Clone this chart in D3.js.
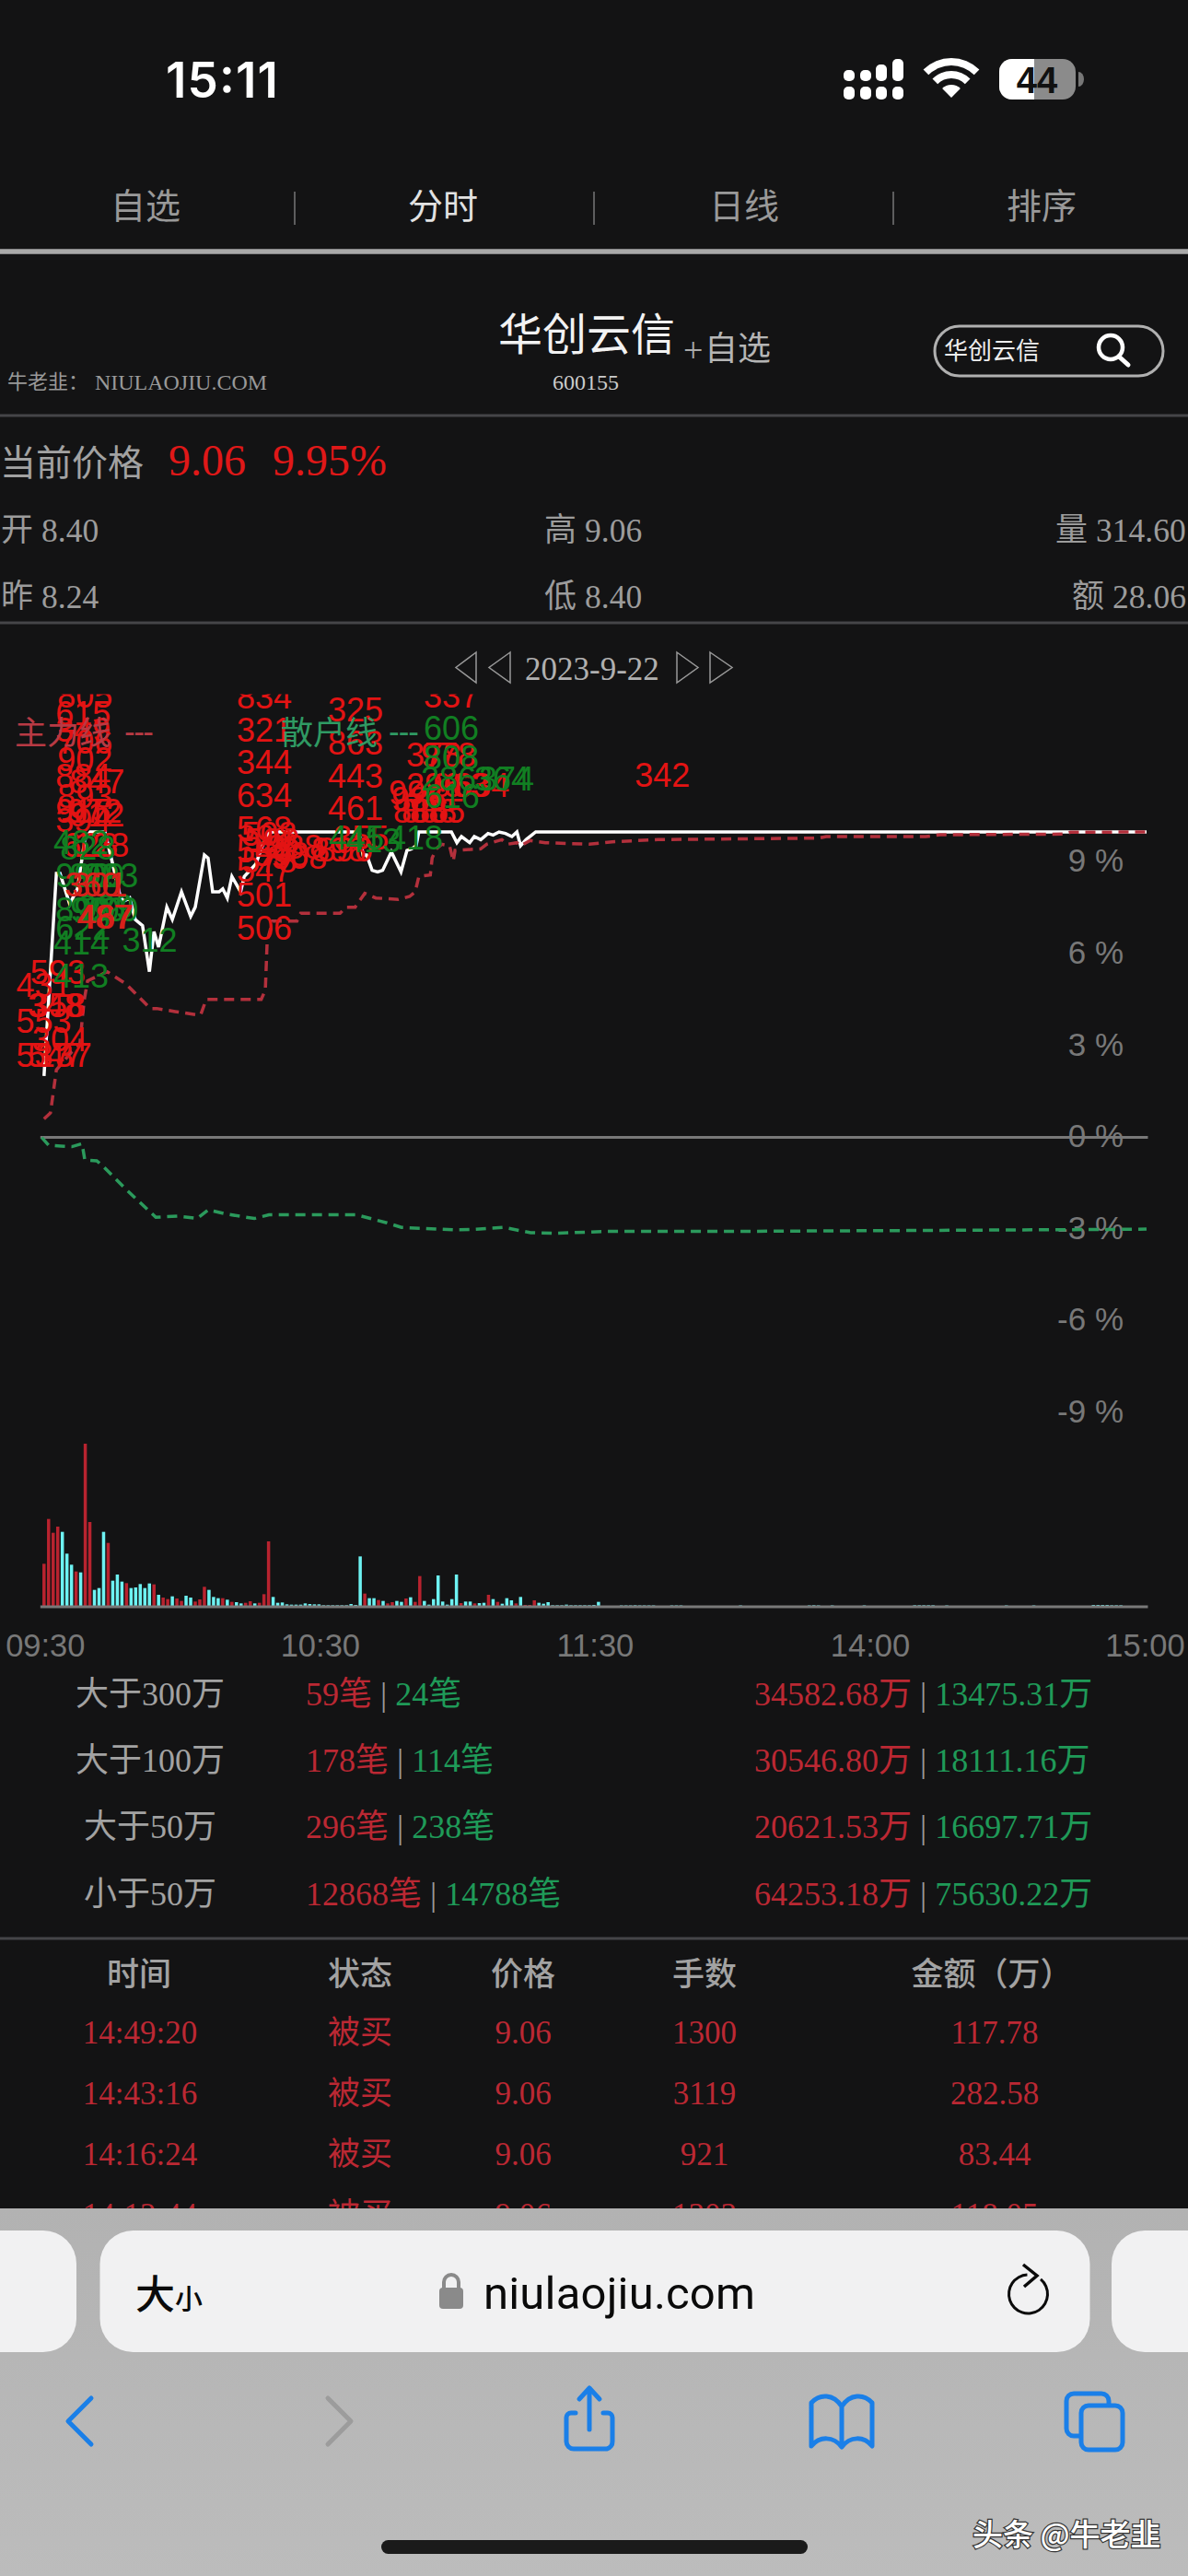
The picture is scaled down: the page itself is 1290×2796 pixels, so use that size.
<!DOCTYPE html>
<html lang="zh">
<head>
<meta charset="utf-8">
<title>华创云信 分时</title>
<script src="https://d3js.org/d3.v7.min.js"></script>
<style>
  html, body { margin: 0; padding: 0; background: #131314; }
  svg { display: block; }
  text { font-family: "Liberation Serif", "Noto Sans CJK SC", serif; }
  .sans { font-family: "Liberation Sans", "Noto Sans CJK SC", sans-serif; }
  .cjk { font-family: "Noto Sans CJK SC", sans-serif; }
</style>
</head>
<body>
<div id="chart"></div>
<script>

// ---- chart data ----
var percentTicks = [9, 6, 3, 0, -3, -6, -9];
var timeTickMinutes = [0, 60, 120, 180, 240];
var timeTickLabels = ["09:30", "10:30", "11:30", "14:00", "15:00"];

// price line (white), minute index and % change
var priceMin = [0,2.7,3.5,5.6,7.3,8.9,10.1,13.3,14.9,16.7,17.5,18.7,19.9,21.5,23,24,25,26.8,28,30,32,33,35,35.8,36.8,38.2,39,40,41,42.9,43.7,46.2,47.9,49.1,68.8,69.6,70.4,71.6,72.8,73.9,75.8,77.9,79.2,80.2,81.2,81.8,88.9,90.1,91.1,92.9,93.9,95.3,96.9,98,99.3,100.7,102.1,103.2,104,105.2,107.3,240.6];
var pricePct = [2,8.6,8.6,7.6,8.1,9.7,9.95,9.95,8.96,7.8,7.7,7.8,7.1,6.9,5.4,6.7,6.2,7.5,7.1,8,7.2,7.5,9.2,9.1,8,8,8.1,7.8,8.5,8,8.5,8.9,9.6,9.95,9.95,9.2,9.2,8.7,8.65,8.7,9.3,8.65,9.35,9.4,9.5,9.95,9.95,9.6,9.8,9.6,9.8,9.7,9.9,9.85,9.95,9.9,9.8,9.95,9.5,9.7,9.95,9.95];

// 主力线 (red dashed)
var mainMin = [0,1.4,2.7,6.1,7.8,8.5,8.8,9.5,13.8,17.9,23.2,24.6,28.6,33.2,34.2,35.4,47.4,48.3,48.7,49.9,55.2,56,64.6,65.9,67.9,70,72.4,77.3,79.8,81,81.8,84.3,84.7,85.6,86.8,88.5,89.3,89.7,95.3,96.6,99.9,101.1,103.2,104,106.1,109.4,119,124,134,169.1,170.7,192.4,195.6,222.4,224,240.6];
var mainPct = [0.6,0.8,2.2,2.8,3,4.1,4.5,5.1,5.4,5,4.2,4.2,4.1,4,4,4.5,4.5,4.8,6.4,7.05,7.05,7.3,7.3,7.5,7.5,7.95,7.8,7.75,7.85,8,8.5,8.55,9.1,9.4,9.55,9.5,9,9.35,9.4,9.55,9.7,9.55,9.6,9.5,9.67,9.6,9.55,9.63,9.7,9.75,9.8,9.8,9.86,9.88,9.94,9.95];

// 散户线 (green dashed)
var retailMin = [-0.5,1,3.7,6.1,8.3,8.9,11.5,12.7,17.7,24.4,29.2,33.4,35.8,40,45.9,49.1,68.2,74.8,78,89.7,92.9,100.3,106.2,111.2,122.6,147.6,189,238.6,240.6];
var retailPct = [0,-0.25,-0.28,-0.3,-0.2,-0.73,-0.76,-0.91,-1.66,-2.6,-2.56,-2.64,-2.36,-2.5,-2.64,-2.52,-2.52,-2.78,-2.93,-3.01,-3,-2.93,-3.1,-3.12,-3.06,-3.06,-3.03,-2.99,-2.98];

// volume per minute, first 122 minutes; up = 1 red, 0 cyan
var volume = [137,283,238,258,241,170,134,112,109,528,
  273,52,58,241,205,82,102,79,74,58,
  60,71,58,73,70,36,27,22,31,24,
  16,33,27,14,21,62,52,29,25,25,
  20,13,12,8,10,15,8,10,38,210,
  29,10,11,5,4,4,4,8,6,5,
  5,2,2,2,2,2,2,6,3,161,
  40,25,25,19,16,8,12,16,13,24,
  28,13,97,16,4,22,99,14,4,22,
  102,9,14,14,8,9,10,36,22,13,
  7,25,18,8,29,3,3,18,10,7,
  12,2,2,2,4,2,2,2,2,2,3,13];
var volumeUp = [1,1,1,1,0,0,0,1,0,1,
  1,0,0,0,1,0,0,0,1,0,
  0,0,0,0,1,0,1,1,0,1,
  1,0,0,1,1,1,0,0,0,1,
  0,1,0,0,1,1,0,1,1,1,
  0,0,0,0,0,0,0,0,0,0,
  0,0,0,0,0,0,0,0,0,0,
  1,0,0,1,0,1,1,0,0,1,
  0,1,1,0,0,0,0,0,0,0,
  0,1,0,0,1,0,0,1,0,1,
  0,0,0,1,0,1,1,1,0,0,
  0,0,0,0,0,0,0,0,0,0,0,0];
// the few tiny afternoon bars
var lateVolMin = [126,127,128,129,130,131,132,133,137,138,139,152,167,168,169,172,179,190,191,192,193,194,197,210,216,229,230,231,232,233,234,235];
var lateVol = [1.5,1.5,1.5,2,1.5,1.5,1.5,1.5,1.5,1.5,1.5,1.5,1.5,2,1.5,1.5,1.5,2,2,2,2,2,1.5,1.5,1.5,3,3,3,3,2,2,2];

// big order labels: text, minute, % position
var redText = ["805","615","349","706","902","884","847","893","915","972","912","394","628","128","593","431","358","348","553","304","537","547","137",
  "834","321","344","634","568","508","598","888","508","548","598","578","547","501","506","898","890","355","325","863","443","461",
  "337","378","978","296","963","634","994","986","886","888","885","342"];
var redMin = [2.9,2.5,2.5,2.9,2.9,2.5,5.5,2.9,2.5,4.9,5.5,2.5,4.1,6.5,-3,-6.1,-3,-3.6,-6.1,-2.6,-6.1,-3.6,-1.6,
  42.05,42.05,42.05,42.05,42.05,43.1,43.7,48.7,49.7,42.05,45.7,43.1,42.05,42.05,42.05,58.3,59.7,63.2,61.95,61.95,61.95,61.95,
  82.85,79,82.25,79,84.9,89.5,75.2,75.8,76.2,78,79.8,128.9];
var redPct = [14,13.44,12.9,12.51,11.94,11.4,11.22,10.74,10.26,10.26,10.14,9.96,9.15,9.15,5,4.58,3.92,3.92,3.41,2.81,2.3,2.3,2.3,
  13.98,12.9,11.85,10.77,9.69,9.5,9.3,9.09,8.76,8.97,8.85,8.64,8.34,7.52,6.44,9,9,9.39,13.56,12.48,11.4,10.35,
  14.01,12.09,12.09,11.1,11.1,11.1,10.86,10.65,10.26,10.26,10.26,11.43];

var greenText = ["482","828","990","809","993","899","980","389","890","622","414","312","413","445","413","418","606","808","286","374","364","616"];
var greenMin = [2.05,3.5,2.5,5.5,8.5,2.5,5.7,7.5,8.5,2.5,2.05,17,2.05,62.15,65.8,75,82.85,82.85,82.25,94.9,93.9,83];
var greenPct = [9.24,9.06,8.16,8.16,8.16,7.05,7.05,7.14,7.05,6.44,5.96,6.05,4.88,9.39,9.3,9.39,12.96,12,11.31,11.31,11.31,10.74];

// red labels that sit over the green ones
var overText = ["360","301","487","467"];
var overMin = [4.5,6.1,7.1,7.5];
var overPct = [7.86,7.86,6.8,6.8];

// money flow table
var flowNames = ["大于300万","大于100万","大于50万","小于50万"];
var flowBuyCount = ["59笔","178笔","296笔","12868笔"];
var flowSellCount = ["24笔","114笔","238笔","14788笔"];
var flowBuyMoney = ["34582.68万","30546.80万","20621.53万","64253.18万"];
var flowSellMoney = ["13475.31万","18111.16万","16697.71万","75630.22万"];

// trades table
var tradeHead = ["时间","状态","价格","手数","金额（万）"];
var tradeTime = ["14:49:20","14:43:16","14:16:24","14:12:44"];
var tradeState = ["被买","被买","被买","被买"];
var tradePrice = ["9.06","9.06","9.06","9.06"];
var tradeHands = ["1300","3119","921","1303"];
var tradeMoney = ["117.78","282.58","83.44","118.05"];

// ---- colours ----
var bg = "#131314", red = "#bb2833", green = "#1f9a58", labelRed = "#e31313", labelGreen = "#117f22";
var axisGrey = "#787878", textGrey = "#a2a2a2", blue = "#1a7fe8";

var svg = d3.select("#chart").append("svg")
  .attr("width", 1290).attr("height", 2796);

svg.append("rect").attr("width", 1290).attr("height", 2796).attr("fill", bg);

// small helper for plain text
function label(str, x, y, size, fill, anchor, cls) {
  return svg.append("text")
    .attr("x", x).attr("y", y)
    .attr("font-size", size)
    .attr("fill", fill)
    .attr("text-anchor", anchor || "start")
    .attr("class", cls || null)
    .text(str);
}
function hline(y, color, w) {
  svg.append("rect").attr("x", 0).attr("y", y - w / 2).attr("width", 1290).attr("height", w).attr("fill", color);
}

// ---- status bar ----
svg.append("text").attr("x", 180).attr("y", 106).attr("font-size", 53).attr("font-weight", 600)
  .attr("fill", "#fff").style("font-family", "Inter").attr("textLength", 122).text("15:11");

var sigX = [916, 934, 951, 969], sigTop = [76, 76, 70, 64];
sigX.forEach(function(x, i) {
  svg.append("rect").attr("x", x).attr("y", sigTop[i]).attr("width", 12).attr("height", 88 - sigTop[i]).attr("rx", 5).attr("fill", "#fff");
  svg.append("rect").attr("x", x).attr("y", 94).attr("width", 12).attr("height", 14).attr("rx", 5).attr("fill", "#fff");
});
var wifi = d3.arc().startAngle(-Math.PI / 4).endAngle(Math.PI / 4);
[[0, 14], [21, 29], [35, 43]].forEach(function(r) {
  svg.append("path").attr("transform", "translate(1033,106)")
    .attr("d", wifi({innerRadius: r[0], outerRadius: r[1]})).attr("fill", "#fff");
});
svg.append("rect").attr("x", 1085).attr("y", 64).attr("width", 83).attr("height", 44).attr("rx", 14).attr("fill", "#8b8b8b");
svg.append("path").attr("d", "M1123,64H1099a14,14 0 0 0 -14,14V94a14,14 0 0 0 14,14H1123Z").attr("fill", "#fff");
svg.append("path").attr("d", "M1171,78a6,8 0 0 1 0,16Z").attr("fill", "#777");
svg.append("text").attr("x", 1126).attr("y", 101).attr("font-size", 40).attr("font-weight", 700).attr("text-anchor", "middle")
  .attr("fill", "#111").attr("class", "sans").text("44");

// ---- top nav ----
var navNames = ["自选", "分时", "日线", "排序"], navX = [158, 481, 808, 1131], navFill = ["#999", "#e2e2e2", "#999", "#999"];
navNames.forEach(function(n, i) { label(n, navX[i], 237, 38, navFill[i], "middle", "cjk"); });
[320, 645, 970].forEach(function(x) {
  svg.append("line").attr("x1", x).attr("x2", x).attr("y1", 208).attr("y2", 244).attr("stroke", "#777").attr("stroke-width", 1.5);
});
hline(273, "#a9a9a9", 5.5);

// ---- stock header ----
label("华创云信", 541, 380, 48, "#f2f2f2", "start", "cjk");
label("+", 742, 393, 38, "#aaa");
label("自选", 765, 391, 36, "#b5b5b5", "start", "cjk");
label("牛老韭：", 8, 422, 22, "#999", "start", "cjk");
label("NIULAOJIU.COM", 103, 423, 23, "#999").attr("textLength", 187).attr("lengthAdjust", "spacingAndGlyphs");
label("600155", 600, 423, 24, "#ccc");
svg.append("rect").attr("x", 1015).attr("y", 354).attr("width", 248).attr("height", 54).attr("rx", 27)
  .attr("fill", "none").attr("stroke", "#b0b0b0").attr("stroke-width", 3);
label("华创云信", 1025, 390, 26, "#eee", "start", "cjk");
svg.append("circle").attr("cx", 1206).attr("cy", 377).attr("r", 13).attr("fill", "none").attr("stroke", "#fff").attr("stroke-width", 4.5);
svg.append("line").attr("x1", 1215).attr("y1", 387).attr("x2", 1225).attr("y2", 396).attr("stroke", "#fff").attr("stroke-width", 5).attr("stroke-linecap", "round");
hline(451, "#454548", 3);

// ---- quote ----
label("当前价格", 0, 516, 39, textGrey, "start", "cjk");
label("9.06", 183, 516, 48, "#e01818");
label("9.95%", 296, 516, 48, "#e01818");

var quoteKey = ["开", "高", "量", "昨", "低", "额"], quoteVal = ["8.40", "9.06", "314.60", "8.24", "8.40", "28.06"];
var quoteX = [1, 591, 1146, 1, 591, 1164], quoteY = [588, 588, 588, 660, 660, 660];
quoteKey.forEach(function(k, i) {
  label(k, quoteX[i], quoteY[i] - 1, 35, "#9c9c9c", "start", "cjk");
  label(quoteVal[i], quoteX[i] + 44, quoteY[i], 35.5, "#9c9c9c");
});
hline(676, "#454548", 3);

// ---- date nav ----
[[517, 495], [554, 531]].forEach(function(t) {
  svg.append("path").attr("d", "M" + t[0] + ",708L" + t[1] + ",724.5L" + t[0] + ",741Z").attr("fill", "none").attr("stroke", "#999").attr("stroke-width", 1.5);
});
[[735, 758], [771, 795]].forEach(function(t) {
  svg.append("path").attr("d", "M" + t[0] + ",708L" + t[1] + ",724.5L" + t[0] + ",741Z").attr("fill", "none").attr("stroke", "#999").attr("stroke-width", 1.5);
});
label("2023-9-22", 570, 738, 35, "#b0b0b0");

// ---- scales ----
var x = d3.scaleLinear().domain([0, 240]).range([47.8, 1242]);
var y = d3.scaleLinear().domain([0, 9.95]).range([1234.6, 903]);
var yTick = d3.scaleLinear().domain([0, 9]).range([1233.4, 934.6]); // the % labels run a bit tighter than the plot
var yVol = d3.scaleLinear().domain([0, 528]).range([1743, 1567]);

// ---- volume bars ----
var bars = volume.map(function(v, i) { return {m: i, v: v, up: volumeUp[i]}; })
  .concat(lateVol.map(function(v, i) { return {m: lateVolMin[i], v: v, up: 0}; }));

svg.append("g").selectAll("rect").data(bars).enter().append("rect")
  .attr("x", function(d) { return x(d.m) - 1.75; })
  .attr("width", 3.5)
  .attr("y", function(d) { return yVol(d.v); })
  .attr("height", function(d) { return yVol(0) - yVol(d.v); })
  .attr("fill", function(d) { return d.up ? "#b8232f" : "#6df2f2"; });

// base lines
var baseExtent = [-0.8, 240.9];
svg.append("line").attr("x1", x(baseExtent[0])).attr("x2", x(baseExtent[1])).attr("y1", yVol(0) + 1).attr("y2", yVol(0) + 1).attr("stroke", axisGrey).attr("stroke-width", 3);
svg.append("line").attr("x1", x(baseExtent[0])).attr("x2", x(baseExtent[1])).attr("y1", y(0)).attr("y2", y(0)).attr("stroke", axisGrey).attr("stroke-width", 3);

// ---- axes ----
var xAxis = d3.axisBottom(x).tickValues(timeTickMinutes).tickSize(0).tickPadding(0)
  .tickFormat(function(d, i) { return timeTickLabels[i]; });
var xg = svg.append("g").attr("transform", "translate(1,1773)").call(xAxis);
xg.select(".domain").remove();
xg.selectAll("text").attr("class", "sans").attr("font-size", 34.5).attr("fill", axisGrey).attr("dy", "0.71em");

var yAxis = d3.axisRight(yTick).tickValues(percentTicks).tickSize(0).tickPadding(0)
  .tickFormat(function(d) { return d + " %"; });
var yg = svg.append("g").attr("transform", "translate(1220,0)").call(yAxis);
yg.select(".domain").remove();
yg.selectAll("text").attr("class", "sans").attr("font-size", 35).attr("fill", axisGrey).attr("text-anchor", "end");

// ---- lines ----
function drawLine(mins, pcts, color, dash) {
  var line = d3.line()
    .x(function(d) { return x(d); })
    .y(function(d, i) { return y(pcts[i]); });
  svg.append("path").datum(mins)
    .attr("d", line)
    .attr("fill", "none")
    .attr("stroke", color)
    .attr("stroke-width", 3.5)
    .attr("stroke-dasharray", dash || null);
}
drawLine(retailMin, retailPct, "#2b9a5c", "11,7");
drawLine(priceMin, pricePct, "#ffffff");
drawLine(mainMin, mainPct, "#b3303c", "11,7");

// ---- order labels, clipped at the top of the plot ----
svg.append("clipPath").attr("id", "plotclip").append("rect").attr("x", 0).attr("y", 753.5).attr("width", 1290).attr("height", 1000);
var labels = svg.append("g").attr("clip-path", "url(#plotclip)");
function drawLabels(texts, mins, pcts, color) {
  labels.append("g").selectAll("text").data(texts).enter().append("text")
    .attr("class", "sans")
    .attr("x", function(d, i) { return x(mins[i]); })
    .attr("y", function(d, i) { return y(pcts[i]); })
    .attr("font-size", 36)
    .attr("fill", color)
    .text(function(d) { return d; });
}
drawLabels(redText, redMin, redPct, labelRed);
drawLabels(greenText, greenMin, greenPct, labelGreen);
drawLabels(overText, overMin, overPct, "#d8201a");

// ---- legend ----
label("主力线", 16, 808, 35, "#b83a44", "start", "cjk");
label("---", 135, 806, 35, "#b83a44", "start", "sans").attr("textLength", 32);
label("散户线", 305, 808, 35, "#2f9a63", "start", "cjk");
label("---", 422, 806, 35, "#2f9a63", "start", "sans").attr("textLength", 33);

// ---- money flow table ----
var flowY = [1851, 1923, 1995, 2068];
flowNames.forEach(function(n, i) {
  label(n, 163, flowY[i], 36, textGrey, "middle");
  var c = label("", 332, flowY[i], 36, red);
  c.append("tspan").text(flowBuyCount[i]);
  c.append("tspan").attr("fill", "#999").text(" | ");
  c.append("tspan").attr("fill", green).text(flowSellCount[i]);
  var m = label("", 819, flowY[i], 36, red);
  m.append("tspan").text(flowBuyMoney[i]);
  m.append("tspan").attr("fill", "#999").text(" | ");
  m.append("tspan").attr("fill", green).text(flowSellMoney[i]);
});
hline(2104, "#454548", 3);

// ---- trades table ----
var tradeX = [151, 391, 568, 765, 1077];
tradeHead.forEach(function(h, i) {
  label(h, tradeX[i], 2155, 35, textGrey, "middle", "cjk").attr("font-weight", 500);
});
var tradeRowY = [2218, 2284, 2350, 2416];
tradeTime.forEach(function(t, i) {
  label(t, 152, tradeRowY[i], 35, red, "middle");
  label(tradeState[i], 391, tradeRowY[i], 35, red, "middle", "cjk");
  label(tradePrice[i], 568, tradeRowY[i], 35, red, "middle");
  label(tradeHands[i], 765, tradeRowY[i], 35, red, "middle");
  label(tradeMoney[i], 1080, tradeRowY[i], 35, red, "middle");
});

// ---- browser chrome ----
var grad = svg.append("linearGradient").attr("id", "barfill").attr("x1", 0).attr("y1", 0).attr("x2", 0).attr("y2", 1);
grad.append("stop").attr("offset", 0).attr("stop-color", "#b2b2b2");
grad.append("stop").attr("offset", 1).attr("stop-color", "#bcbcbc");
svg.append("rect").attr("y", 2397).attr("width", 1290).attr("height", 399).attr("fill", "url(#barfill)");
[[-60, 143], [108.5, 1075], [1207, 150]].forEach(function(c) {
  svg.append("rect").attr("x", c[0]).attr("y", 2421).attr("width", c[1]).attr("height", 132).attr("rx", 36).attr("fill", "#f1f1f2");
});
label("大", 147, 2506, 43, "#0a0a0a", "start", "cjk").attr("font-weight", 500);
label("小", 190, 2506, 30, "#0a0a0a", "start", "cjk").attr("font-weight", 500);
svg.append("path").attr("d", "M482,2484v-7a8,8 0 0 1 16,0v7").attr("fill", "none").attr("stroke", "#8a8a8a").attr("stroke-width", 4);
svg.append("rect").attr("x", 477).attr("y", 2483).attr("width", 26).attr("height", 23).attr("rx", 4).attr("fill", "#8a8a8a");
svg.append("text").attr("x", 525).attr("y", 2506).attr("font-size", 49).attr("fill", "#0a0a0a")
  .style("font-family", "Roboto").attr("textLength", 295).text("niulaojiu.com");
svg.append("path").attr("transform", "translate(1116.5,2490)")
  .attr("d", d3.arc()({innerRadius: 19.5, outerRadius: 22.5, startAngle: 0.7, endAngle: 2 * Math.PI - 0.05})).attr("fill", "#0a0a0a");
svg.append("path").attr("d", "M1111,2458L1126,2470L1112,2482").attr("fill", "none").attr("stroke", "#0a0a0a").attr("stroke-width", 3.5);

function chevron(d, color) {
  svg.append("path").attr("d", d).attr("fill", "none").attr("stroke", color).attr("stroke-width", 5).attr("stroke-linecap", "round").attr("stroke-linejoin", "round");
}
chevron("M99,2603L74,2628L99,2653", blue);
chevron("M356,2603L381,2628L356,2653", "#9c9c9c");
// share
chevron("M625,2619H620a5,5 0 0 0 -5,5V2650a8,8 0 0 0 8,8H659a8,8 0 0 0 6,-8V2624a5,5 0 0 0 -5,-5H655", blue);
chevron("M640,2637V2592M629,2604L640,2592L651,2604", blue);
// book
chevron("M914,2612C905,2598 890,2598 881,2608V2655C890,2644 905,2644 914,2656C923,2644 938,2644 947,2655V2608C938,2598 923,2598 914,2612V2650", blue);
// tabs
chevron("M1173,2644H1166a8,8 0 0 1 -8,-8V2606a8,8 0 0 1 8,-8H1196a8,8 0 0 1 8,8V2610", blue);
svg.append("rect").attr("x", 1174).attr("y", 2611).attr("width", 45).attr("height", 48).attr("rx", 8).attr("fill", "none").attr("stroke", blue).attr("stroke-width", 5);

svg.append("rect").attr("x", 414).attr("y", 2757).attr("width", 463).attr("height", 15).attr("rx", 7.5).attr("fill", "#1a1a1a");

// watermark
label("头条 @牛老韭", 1056, 2763, 33, "#fff", "start", "cjk")
  .attr("font-weight", 500).attr("stroke", "#333").attr("stroke-width", 2.5).style("paint-order", "stroke");
</script>
</body>
</html>
